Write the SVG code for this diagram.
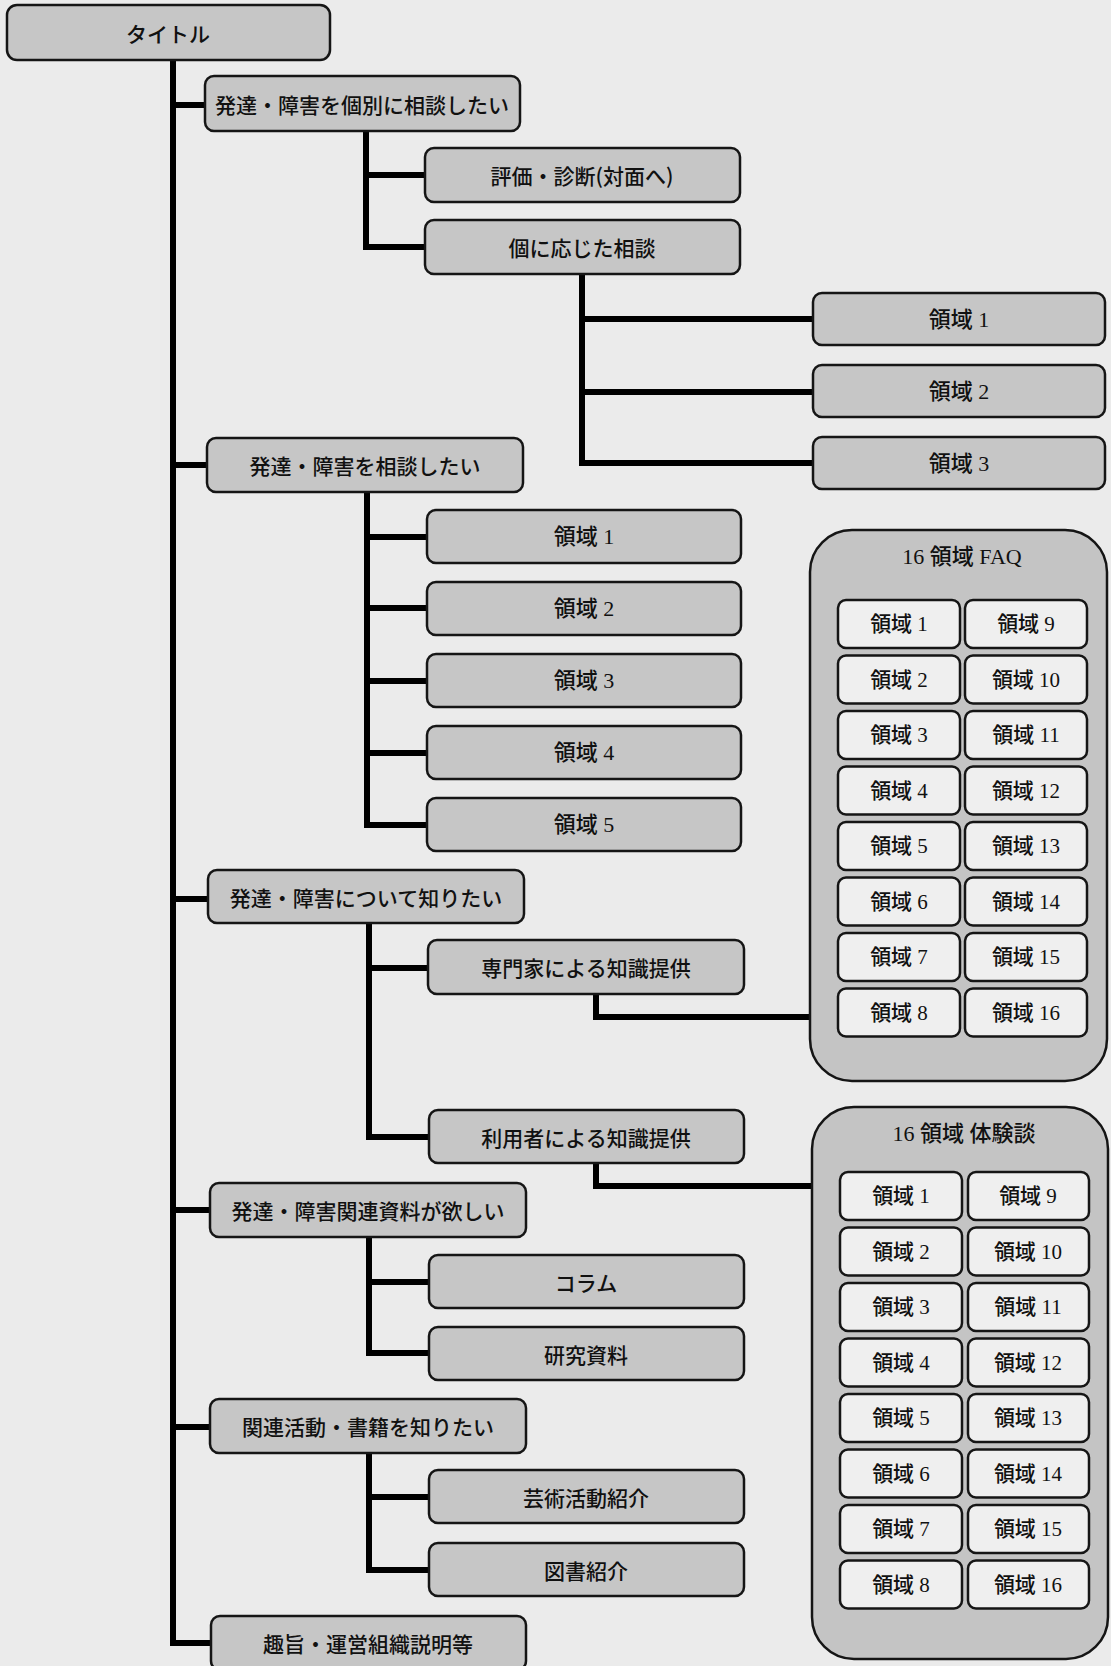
<svg xmlns="http://www.w3.org/2000/svg" width="1111" height="1666" viewBox="0 0 1111 1666">
<style>
.bg{fill:#ebebeb}
.box{fill:#c6c6c6;stroke:#151515;stroke-width:2.5}
.cont{fill:#c4c4c4;stroke:#151515;stroke-width:2.5}
.cell{fill:#efefef;stroke:#151515;stroke-width:2.5}
.t{font-family:"Noto Sans CJK JP","Noto Sans CJK SC",sans-serif;font-size:21px;font-weight:500;fill:#111;text-anchor:middle;dominant-baseline:central}
.s{font-family:"Liberation Serif","Noto Sans CJK JP",serif;font-size:22px;font-weight:500;fill:#111;text-anchor:middle;dominant-baseline:central}
.c{font-family:"Liberation Serif","Noto Sans CJK JP",serif;font-size:21px;font-weight:500;fill:#111;text-anchor:middle;dominant-baseline:central}
.ln{fill:none;stroke:#000;stroke-width:6;stroke-linejoin:miter;stroke-linecap:butt}
</style>
<rect class="bg" x="0" y="0" width="1111" height="1666"/>

<g id="connectors">
  <path class="ln" d="M173 60 V1646"/>
  <path class="ln" d="M173 105 H205 M173 465 H207 M173 899 H208 M173 1210 H210 M173 1427 H210 M173 1643 H211"/>
  <path class="ln" d="M366 131 V250 M366 175 H425 M363 247 H425"/>
  <path class="ln" d="M582 274 V466 M582 319 H813 M582 392 H813 M579 463 H813"/>
  <path class="ln" d="M367 492 V828 M367 537 H427 M367 608 H427 M367 681 H427 M367 753 H427 M364 825 H427"/>
  <path class="ln" d="M369 923 V1140 M369 968 H428 M366 1137 H429"/>
  <path class="ln" d="M596 994 V1017 H810"/>
  <path class="ln" d="M596 1163 V1186 H812"/>
  <path class="ln" d="M369 1237 V1356 M369 1282 H429 M366 1353 H429"/>
  <path class="ln" d="M369 1453 V1573 M369 1497 H429 M366 1570 H429"/>
</g>

<g id="n-title"><rect class="box" x="7" y="5" width="323" height="55" rx="10"/><text class="t" x="168" y="33">タイトル</text></g>

<g id="n-kobetsu"><rect class="box" x="205" y="76" width="315" height="55" rx="9"/><text class="t" x="362" y="104">発達・障害を個別に相談したい</text></g>
<g id="n-hyouka"><rect class="box" x="425" y="148" width="315" height="54" rx="9"/><text class="t" x="582" y="175">評価・診断(対面へ)</text></g>
<g id="n-kojin"><rect class="box" x="425" y="220" width="315" height="54" rx="9"/><text class="t" x="582" y="247">個に応じた相談</text></g>
<g id="n-k1"><rect class="box" x="813" y="293" width="292" height="52" rx="9"/><text class="s" x="959" y="319">領域 1</text></g>
<g id="n-k2"><rect class="box" x="813" y="365" width="292" height="52" rx="9"/><text class="s" x="959" y="391">領域 2</text></g>
<g id="n-k3"><rect class="box" x="813" y="437" width="292" height="52" rx="9"/><text class="s" x="959" y="463">領域 3</text></g>

<g id="n-soudan"><rect class="box" x="207" y="438" width="316" height="54" rx="9"/><text class="t" x="365" y="465">発達・障害を相談したい</text></g>
<g id="n-s1"><rect class="box" x="427" y="510" width="314" height="53" rx="9"/><text class="s" x="584" y="536">領域 1</text></g>
<g id="n-s2"><rect class="box" x="427" y="582" width="314" height="53" rx="9"/><text class="s" x="584" y="608">領域 2</text></g>
<g id="n-s3"><rect class="box" x="427" y="654" width="314" height="53" rx="9"/><text class="s" x="584" y="680">領域 3</text></g>
<g id="n-s4"><rect class="box" x="427" y="726" width="314" height="53" rx="9"/><text class="s" x="584" y="752">領域 4</text></g>
<g id="n-s5"><rect class="box" x="427" y="798" width="314" height="53" rx="9"/><text class="s" x="584" y="824">領域 5</text></g>

<g id="n-shiritai"><rect class="box" x="208" y="870" width="316" height="53" rx="9"/><text class="t" x="366" y="897">発達・障害について知りたい</text></g>
<g id="n-senmon"><rect class="box" x="428" y="940" width="316" height="54" rx="9"/><text class="t" x="586" y="967">専門家による知識提供</text></g>
<g id="n-riyou"><rect class="box" x="429" y="1110" width="315" height="53" rx="9"/><text class="t" x="586" y="1137">利用者による知識提供</text></g>

<g id="n-faq">
  <rect class="cont" x="810" y="530" width="297" height="551" rx="42"/>
  <text class="s" x="962" y="556">16 領域 FAQ</text>
  <rect class="cell" x="838" y="600" width="122" height="48" rx="8"/><text class="c" x="899" y="624">領域 1</text>
  <rect class="cell" x="838" y="655.5" width="122" height="48" rx="8"/><text class="c" x="899" y="679.5">領域 2</text>
  <rect class="cell" x="838" y="711" width="122" height="48" rx="8"/><text class="c" x="899" y="735">領域 3</text>
  <rect class="cell" x="838" y="766.5" width="122" height="48" rx="8"/><text class="c" x="899" y="790.5">領域 4</text>
  <rect class="cell" x="838" y="822" width="122" height="48" rx="8"/><text class="c" x="899" y="846">領域 5</text>
  <rect class="cell" x="838" y="877.5" width="122" height="48" rx="8"/><text class="c" x="899" y="901.5">領域 6</text>
  <rect class="cell" x="838" y="933" width="122" height="48" rx="8"/><text class="c" x="899" y="957">領域 7</text>
  <rect class="cell" x="838" y="988.5" width="122" height="48" rx="8"/><text class="c" x="899" y="1012.5">領域 8</text>
  <rect class="cell" x="965" y="600" width="122" height="48" rx="8"/><text class="c" x="1026" y="624">領域 9</text>
  <rect class="cell" x="965" y="655.5" width="122" height="48" rx="8"/><text class="c" x="1026" y="679.5">領域 10</text>
  <rect class="cell" x="965" y="711" width="122" height="48" rx="8"/><text class="c" x="1026" y="735">領域 11</text>
  <rect class="cell" x="965" y="766.5" width="122" height="48" rx="8"/><text class="c" x="1026" y="790.5">領域 12</text>
  <rect class="cell" x="965" y="822" width="122" height="48" rx="8"/><text class="c" x="1026" y="846">領域 13</text>
  <rect class="cell" x="965" y="877.5" width="122" height="48" rx="8"/><text class="c" x="1026" y="901.5">領域 14</text>
  <rect class="cell" x="965" y="933" width="122" height="48" rx="8"/><text class="c" x="1026" y="957">領域 15</text>
  <rect class="cell" x="965" y="988.5" width="122" height="48" rx="8"/><text class="c" x="1026" y="1012.5">領域 16</text>
</g>

<g id="n-taiken">
  <rect class="cont" x="812" y="1107" width="296" height="552" rx="42"/>
  <text class="s" x="964" y="1133">16 領域  体験談</text>
  <rect class="cell" x="840" y="1172" width="122" height="48" rx="8"/><text class="c" x="901" y="1196">領域 1</text>
  <rect class="cell" x="840" y="1227.5" width="122" height="48" rx="8"/><text class="c" x="901" y="1251.5">領域 2</text>
  <rect class="cell" x="840" y="1283" width="122" height="48" rx="8"/><text class="c" x="901" y="1307">領域 3</text>
  <rect class="cell" x="840" y="1338.5" width="122" height="48" rx="8"/><text class="c" x="901" y="1362.5">領域 4</text>
  <rect class="cell" x="840" y="1394" width="122" height="48" rx="8"/><text class="c" x="901" y="1418">領域 5</text>
  <rect class="cell" x="840" y="1449.5" width="122" height="48" rx="8"/><text class="c" x="901" y="1473.5">領域 6</text>
  <rect class="cell" x="840" y="1505" width="122" height="48" rx="8"/><text class="c" x="901" y="1529">領域 7</text>
  <rect class="cell" x="840" y="1560.5" width="122" height="48" rx="8"/><text class="c" x="901" y="1584.5">領域 8</text>
  <rect class="cell" x="968" y="1172" width="121" height="48" rx="8"/><text class="c" x="1028" y="1196">領域 9</text>
  <rect class="cell" x="968" y="1227.5" width="121" height="48" rx="8"/><text class="c" x="1028" y="1251.5">領域 10</text>
  <rect class="cell" x="968" y="1283" width="121" height="48" rx="8"/><text class="c" x="1028" y="1307">領域 11</text>
  <rect class="cell" x="968" y="1338.5" width="121" height="48" rx="8"/><text class="c" x="1028" y="1362.5">領域 12</text>
  <rect class="cell" x="968" y="1394" width="121" height="48" rx="8"/><text class="c" x="1028" y="1418">領域 13</text>
  <rect class="cell" x="968" y="1449.5" width="121" height="48" rx="8"/><text class="c" x="1028" y="1473.5">領域 14</text>
  <rect class="cell" x="968" y="1505" width="121" height="48" rx="8"/><text class="c" x="1028" y="1529">領域 15</text>
  <rect class="cell" x="968" y="1560.5" width="121" height="48" rx="8"/><text class="c" x="1028" y="1584.5">領域 16</text>
</g>

<g id="n-shiryou"><rect class="box" x="210" y="1183" width="316" height="54" rx="9"/><text class="t" x="368" y="1210">発達・障害関連資料が欲しい</text></g>
<g id="n-column"><rect class="box" x="429" y="1255" width="315" height="53" rx="9"/><text class="t" x="586" y="1282">コラム</text></g>
<g id="n-kenkyu"><rect class="box" x="429" y="1327" width="315" height="53" rx="9"/><text class="t" x="586" y="1354">研究資料</text></g>

<g id="n-kanren"><rect class="box" x="210" y="1399" width="316" height="54" rx="9"/><text class="t" x="368" y="1426">関連活動・書籍を知りたい</text></g>
<g id="n-geijutsu"><rect class="box" x="429" y="1470" width="315" height="53" rx="9"/><text class="t" x="586" y="1497">芸術活動紹介</text></g>
<g id="n-tosho"><rect class="box" x="429" y="1543" width="315" height="53" rx="9"/><text class="t" x="586" y="1570">図書紹介</text></g>

<g id="n-shushi"><rect class="box" x="211" y="1616" width="315" height="54" rx="9"/><text class="t" x="368" y="1643">趣旨・運営組織説明等</text></g>
</svg>
